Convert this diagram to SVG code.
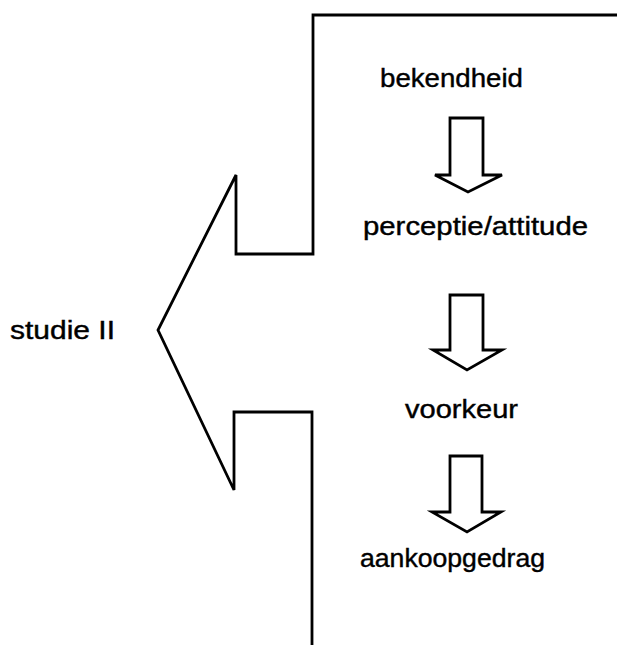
<svg xmlns="http://www.w3.org/2000/svg" width="617" height="645" viewBox="0 0 617 645">
<style>
.ln{fill:none;stroke:#000;stroke-width:2.8;stroke-linejoin:miter}
.ar{fill:#fff;stroke:#000;stroke-width:2.8;stroke-linejoin:miter}
.t{font-family:"Liberation Sans",Arial,sans-serif;font-size:25px;fill:#000;stroke:#000;stroke-width:0.4}
</style>
<rect width="617" height="645" fill="#fff"/>
<g id="outline">
<path class="ln" d="M617,15 H313 V254 H236 V175 L158,330 L234,490 V412 H312 V645"/>
</g>
<g id="studie"><text class="t" x="10" y="339" textLength="105" lengthAdjust="spacingAndGlyphs">studie II</text></g>
<g id="bekendheid"><text class="t" x="380" y="87" textLength="143" lengthAdjust="spacingAndGlyphs">bekendheid</text></g>
<g id="perceptie"><text class="t" x="363" y="235" textLength="225" lengthAdjust="spacingAndGlyphs">perceptie/attitude</text></g>
<g id="voorkeur"><text class="t" x="405" y="418" textLength="113" lengthAdjust="spacingAndGlyphs">voorkeur</text></g>
<g id="aankoopgedrag"><text class="t" x="360" y="567" textLength="185" lengthAdjust="spacingAndGlyphs">aankoopgedrag</text></g>
<g id="connectors">
<path class="ar" d="M450,118 H483 V175 H502 L468,192 L435,175 H450 Z"/>
<path class="ar" d="M450,295 H483 V350 H502 L467,370 L433,350 H450 Z"/>
<path class="ar" d="M450,456 H482 V512 H501 L467,532 L432,512 H450 Z"/>
</g>
</svg>
